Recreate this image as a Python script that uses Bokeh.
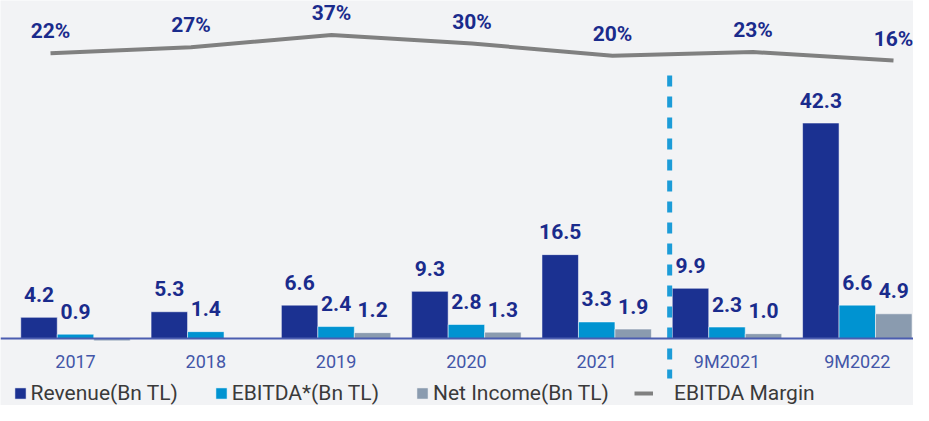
import numpy as np
from bokeh.plotting import figure
from bokeh.models import (ColumnDataSource, Range1d, LinearAxis, FixedTicker,
                          Legend, LegendItem)
from bokeh.transform import dodge
from bokeh.core.properties import value
from bokeh.embed import file_html
from bokeh.resources import INLINE

# ---- data ----
categories = ["2017", "2018", "2019", "2020", "2021", "9M2021", "9M2022"]
revenue = [4.2, 5.3, 6.6, 9.3, 16.5, 9.9, 42.3]
ebitda = [0.9, 1.4, 2.4, 2.8, 3.3, 2.3, 6.6]
net_income = [-0.4, 0.0, 1.2, 1.3, 1.9, 1.0, 4.9]
ebitda_margin = [22, 27, 37, 30, 20, 23, 16]
series_names = ["Revenue(Bn TL)", "EBITDA*(Bn TL)", "Net Income(Bn TL)", "EBITDA Margin"]
n_annual = 5  # separator after the annual periods

# ---- styles ----
BG = "#F2F3F5"
C_REV = "#1B3191"
C_EBITDA = "#0093D1"
C_NET = "#8A9BAF"
C_LINE = "#808080"
C_LABEL = "#1A2B8C"
C_TICK = "#4356A8"
C_SEP = "#1C9CD8"
FONT = value("Roboto")
SEP_SHIFT = 0.06

idx = np.arange(len(categories))


def fmt(vals):
    return ["{:.1f}".format(v) if v > 0 else "" for v in vals]


src = ColumnDataSource(dict(
    x=idx, rev=revenue, ebitda=ebitda, net=net_income,
    rev_lbl=fmt(revenue), ebitda_lbl=fmt(ebitda), net_lbl=fmt(net_income),
    margin=ebitda_margin, margin_lbl=["{}%".format(m) for m in ebitda_margin],
))

p = figure(width=913, height=405, output_backend="svg", toolbar_location=None,
           x_axis_location=None, y_axis_location=None, min_border=0,
           x_range=Range1d(-0.5756, 6.4313), y_range=Range1d(-13.08, 66.33),
           background_fill_color=BG, border_fill_color=BG, outline_line_color=None)
p.grid.visible = False
p.extra_x_ranges = {"lx": Range1d(-0.3559, 6.1423)}
p.extra_y_ranges = {"ly": Range1d(-269.1, 65.59)}

BW = 0.28
r_rev = p.vbar(x=dodge("x", -BW, range=p.x_range), top="rev", width=BW, source=src,
               fill_color=C_REV, line_color="white", line_alpha=0.5, line_width=1)
r_eb = p.vbar(x=dodge("x", 0, range=p.x_range), top="ebitda", width=BW, source=src,
              fill_color=C_EBITDA, line_color="white", line_alpha=0.5, line_width=1)
r_net = p.vbar(x=dodge("x", BW, range=p.x_range), top="net", width=BW, source=src,
               fill_color=C_NET, line_color="white", line_alpha=0.5, line_width=1)

for off, col, lbl in [(-BW, "rev", "rev_lbl"), (0, "ebitda", "ebitda_lbl"), (BW, "net", "net_lbl")]:
    p.text(x=dodge("x", off, range=p.x_range), y=col, text=lbl, source=src,
           text_align="center", text_baseline="middle", y_offset=-23,
           text_font=FONT, text_font_style="bold", text_font_size="21px",
           text_color=C_LABEL)

# separator between annual and nine-month periods
sep_x = n_annual - 0.5 + SEP_SHIFT
p.segment(x0=[sep_x], x1=[sep_x], y0=[51.6], y1=[-7.8],
          line_color=C_SEP, line_width=5, line_dash="11 10")

# margin line
r_line = p.line(x="x", y="margin", source=src, x_range_name="lx", y_range_name="ly",
                line_color=C_LINE, line_width=4)
p.text(x="x", y="margin", text="margin_lbl", source=src, x_range_name="lx", y_range_name="ly",
       text_align="center", text_baseline="middle", y_offset=-22,
       text_font=FONT, text_font_style="bold", text_font_size="21px", text_color=C_LABEL)

# x axis at zero
xaxis = LinearAxis(fixed_location=0, ticker=FixedTicker(ticks=list(idx)),
                   major_label_overrides={int(i): c for i, c in zip(idx, categories)})
xaxis.axis_line_color = "#4B5DB0"
xaxis.axis_line_width = 2
xaxis.major_tick_out = 0
xaxis.major_tick_in = 0
xaxis.minor_tick_out = 0
xaxis.minor_tick_in = 0
xaxis.major_label_standoff = 12
xaxis.major_label_text_font = "Roboto"
xaxis.major_label_text_font_size = "18px"
xaxis.major_label_text_color = C_TICK
p.add_layout(xaxis, "below")

# legends
leg1 = Legend(items=[LegendItem(label=series_names[0], renderers=[r_rev]),
                     LegendItem(label=series_names[1], renderers=[r_eb]),
                     LegendItem(label=series_names[2], renderers=[r_net])],
              location=(12.6, 0), orientation="horizontal",
              glyph_width=14, glyph_height=14, label_standoff=4, spacing=36,
              padding=0, margin=0, background_fill_alpha=0, border_line_alpha=0,
              label_text_font="Roboto", label_text_font_size="21px",
              label_text_color="#3A3A3A")
leg2 = Legend(items=[LegendItem(label=series_names[3], renderers=[r_line])],
              location=(634, 0), orientation="horizontal",
              glyph_width=19, glyph_height=14, label_standoff=21,
              padding=0, margin=0, background_fill_alpha=0, border_line_alpha=0,
              label_text_font="Roboto", label_text_font_size="21px",
              label_text_color="#3A3A3A")
p.add_layout(leg1)
p.add_layout(leg2)

open("out.html", "w").write(file_html(p, INLINE))
